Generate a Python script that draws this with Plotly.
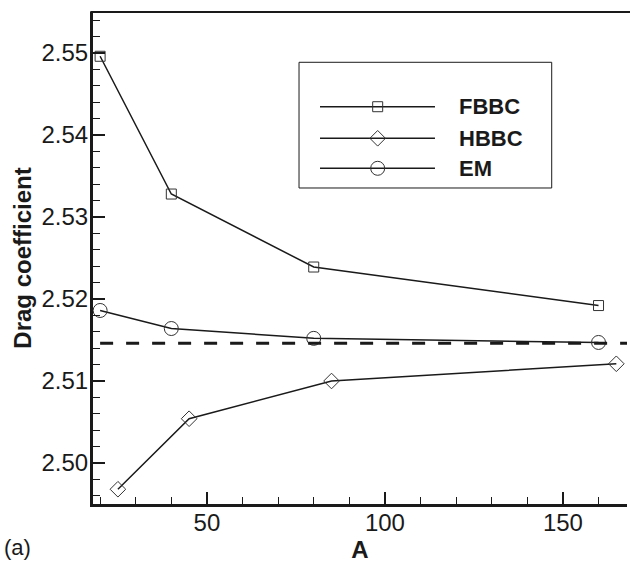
import plotly.graph_objects as go

# ---- data ----
A_fbbc = [20, 40, 80, 160]
cd_fbbc = [2.5496, 2.5328, 2.5239, 2.5192]
A_hbbc = [25, 45, 85, 165]
cd_hbbc = [2.4968, 2.5054, 2.5100, 2.5121]
A_em = [20, 40, 80, 160]
cd_em = [2.5186, 2.5164, 2.5152, 2.5147]
A_ref = [20, 170]
cd_ref = [2.5146, 2.5146]

legend_names = ["FBBC", "HBBC", "EM"]
legend_symbols = ["square-open", "diamond-open", "circle-open"]
legend_sizes = [10, 12, 14]

FONT = "Liberation Sans, Arial, Helvetica, sans-serif"
INK = "#1a1a1a"

fig = go.Figure()

series = [(A_fbbc, cd_fbbc), (A_hbbc, cd_hbbc), (A_em, cd_em)]
for (xs, ys), name, sym, sz in zip(series, legend_names, legend_symbols, legend_sizes):
    fig.add_trace(go.Scatter(
        x=xs, y=ys, mode="lines+markers", name=name, showlegend=False,
        line=dict(color=INK, width=1.5),
        marker=dict(symbol=sym, size=sz, color="#333333", line=dict(color="#333333", width=1)),
        cliponaxis=False,
    ))

fig.add_trace(go.Scatter(
    x=A_ref, y=cd_ref, mode="lines", showlegend=False,
    line=dict(color=INK, width=3, dash="13px,13px"),
))

# ---- custom legend on overlay axes ----
leg_x0, leg_xm, leg_x1 = 0.4251, 0.5331, 0.6404
leg_rows = [0.8075, 0.7433, 0.6823]
for name, sym, sz, ry in zip(legend_names, legend_symbols, legend_sizes, leg_rows):
    fig.add_trace(go.Scatter(
        x=[leg_x0, leg_x1], y=[ry, ry], mode="lines", xaxis="x2", yaxis="y2",
        showlegend=False, line=dict(color=INK, width=1.5), hoverinfo="skip",
    ))
    fig.add_trace(go.Scatter(
        x=[leg_xm], y=[ry], mode="markers", xaxis="x2", yaxis="y2",
        showlegend=False, hoverinfo="skip",
        marker=dict(symbol=sym, size=sz, color="#333333", line=dict(color="#333333", width=1)),
    ))
    fig.add_annotation(
        x=0.6811, y=ry, xref="paper", yref="paper", text=name, showarrow=False,
        xanchor="left", yanchor="middle",
        font=dict(family=FONT, size=22, color=INK, weight="bold"),
    )

fig.add_shape(type="rect", xref="paper", yref="paper",
              x0=0.3858, x1=0.859, y0=0.6423, y1=0.8978,
              line=dict(color=INK, width=1), layer="below")

# top border
fig.add_shape(type="line", xref="paper", yref="paper",
              x0=-0.005, x1=1.01, y0=1, y1=1,
              line=dict(color=INK, width=2.2))

fig.add_annotation(
    x=-0.170, y=-0.0894, xref="paper", yref="paper", text="(a)", showarrow=False,
    xanchor="left", yanchor="middle",
    font=dict(family=FONT, size=22, color=INK),
)

fig.update_layout(
    width=630, height=566,
    margin=dict(l=93, r=3, t=12, b=62),
    paper_bgcolor="white", plot_bgcolor="white",
    font=dict(family=FONT, color=INK),
    xaxis=dict(
        range=[18, 168], showgrid=False, zeroline=False,
        showline=True, linecolor=INK, linewidth=3,
        ticks="inside", ticklen=12, tickwidth=2, tickcolor=INK,
        tick0=0, dtick=50,
        minor=dict(ticks="inside", ticklen=7, tickwidth=1.2, tickcolor=INK, dtick=10, tick0=0, showgrid=False),
        tickfont=dict(family=FONT, size=24, color=INK),
        ticklabelstandoff=-5,
        title=dict(text="A", font=dict(family=FONT, size=24, color=INK, weight="bold"), standoff=2),
    ),
    yaxis=dict(
        range=[2.495, 2.555], showgrid=False, zeroline=False,
        showline=True, linecolor=INK, linewidth=3,
        ticks="inside", ticklen=12, tickwidth=2, tickcolor=INK,
        tick0=2.50, dtick=0.01, tickformat=".2f",
        minor=dict(ticks="inside", ticklen=7, tickwidth=1.2, tickcolor=INK, dtick=0.002, tick0=2.50, showgrid=False),
        tickfont=dict(family=FONT, size=24, color=INK),
        ticklabelstandoff=-3,
        title=dict(text="Drag coefficient", font=dict(family=FONT, size=24, color=INK, weight="bold"), standoff=4),
    ),
    xaxis2=dict(overlaying="x", range=[0, 1], visible=False, fixedrange=True),
    yaxis2=dict(overlaying="y", range=[0, 1], visible=False, fixedrange=True),
)

fig.write_html("out.html")
